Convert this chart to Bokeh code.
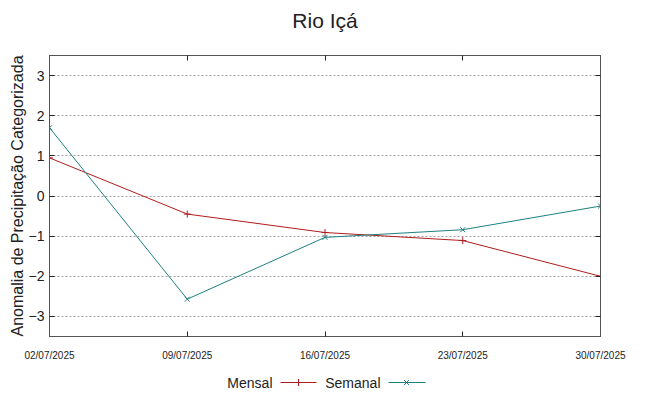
import datetime as dt
from bokeh.plotting import figure
from bokeh.layouts import column
from bokeh.models import LinearAxis, FixedTicker, Range1d, DatetimeTickFormatter
from bokeh.core.properties import value
from bokeh.embed import file_html
from bokeh.resources import INLINE

title_text = "Rio Içá"
dates = ["02/07/2025", "09/07/2025", "16/07/2025", "23/07/2025", "30/07/2025"]
mensal = [0.95, -0.45, -0.91, -1.11, -2.0]
semanal = [1.70, -2.57, -1.03, -0.84, -0.25]
yticks = [-3, -2, -1, 0, 1, 2, 3]

xs = [dt.datetime.strptime(d, "%d/%m/%Y") for d in dates]
xms = [(x - dt.datetime(1970, 1, 1)).total_seconds() * 1000 for x in xs]

RED = "#b01c1c"
TEAL = "#1e8080"
FONT = "Liberation Sans"
BL, BR = 49, 32

# title figure (x in page pixels, frame aligned with the main plot frame)
tf = figure(width=632, height=40, output_backend="svg", toolbar_location=None,
            x_range=Range1d(49, 600), y_range=Range1d(0, 40),
            min_border_left=BL, min_border_right=BR, min_border_top=0, min_border_bottom=0)
tf.axis.visible = False
tf.grid.visible = False
tf.outline_line_color = None
tf.text([324.5], [20], text=[title_text], text_align="center", text_baseline="middle",
        text_font=value(FONT), text_font_size="21px", text_color="#222222")

p = figure(width=632, height=324, output_backend="svg", toolbar_location=None,
           x_axis_type="datetime",
           x_range=Range1d(xms[0], xms[-1]), y_range=Range1d(-3.5, 3.5),
           min_border_left=BL, min_border_right=BR, min_border_top=15, min_border_bottom=28)

p.line(xms, mensal, color=RED, line_width=1.0)
p.scatter(xms, mensal, marker="cross", size=7, color=RED)
p.line(xms, semanal, color=TEAL, line_width=1.0)
p.scatter(xms, semanal, marker="x", size=7, color=TEAL)

p.xaxis.ticker = FixedTicker(ticks=xms)
p.xaxis.formatter = DatetimeTickFormatter(days="%d/%m/%Y", months="%d/%m/%Y", years="%d/%m/%Y")
p.yaxis.ticker = FixedTicker(ticks=yticks)
p.yaxis.axis_label = "Anomalia de Precipitação Categorizada"

for ax in [p.xaxis[0], p.yaxis[0]]:
    ax.major_tick_in = 5
    ax.major_tick_out = 0
    ax.minor_tick_line_color = None
    ax.axis_line_color = "#555555"
    ax.major_tick_line_color = "#222222"
    ax.major_label_text_font = FONT
    ax.major_label_text_color = "#222222"
    ax.axis_label_text_font = FONT
    ax.axis_label_text_font_style = "normal"
    ax.axis_label_text_font_size = "16px"
    ax.axis_label_text_color = "#222222"
p.xaxis.major_label_text_font_size = "10px"
p.xaxis.major_label_standoff = 13
p.yaxis.major_label_text_font_size = "14px"
p.yaxis.major_label_standoff = 5
p.yaxis.axis_label_standoff = 0

top = LinearAxis(ticker=FixedTicker(ticks=xms), major_label_text_color=None,
                 major_label_text_font_size="1px", major_label_standoff=0,
                 major_tick_in=5, major_tick_out=0, minor_tick_line_color=None,
                 axis_line_color="#555555", major_tick_line_color="#222222")
p.add_layout(top, "above")
right = LinearAxis(ticker=FixedTicker(ticks=yticks), major_label_text_color=None,
                   major_label_text_font_size="10px",
                   major_tick_in=5, major_tick_out=0, minor_tick_line_color=None,
                   major_label_standoff=0,
                   axis_line_color="#555555", major_tick_line_color="#222222")
p.add_layout(right, "right")

p.xgrid.grid_line_color = None
p.ygrid.ticker = FixedTicker(ticks=yticks)
p.ygrid.grid_line_color = "#a0a0a0"
p.ygrid.grid_line_dash = "2 2"
p.outline_line_color = "#555555"

# legend figure (x in page pixels, frame aligned with the main plot frame)
lg = figure(width=632, height=28, output_backend="svg", toolbar_location=None,
            x_range=Range1d(49, 600), y_range=Range1d(0, 28),
            min_border_left=BL, min_border_right=BR, min_border_top=0, min_border_bottom=0)
lg.axis.visible = False
lg.grid.visible = False
lg.outline_line_color = None
lg.text([272, 380], [10, 10], text=["Mensal", "Semanal"], text_align="right",
        text_baseline="middle", text_font=value(FONT), text_font_size="14px", text_color="#222222")
lg.line([280, 316], [10, 10], color=RED, line_width=1.0)
lg.scatter([298], [10], marker="cross", size=7, color=RED)
lg.line([388, 425], [10, 10], color=TEAL, line_width=1.0)
lg.scatter([406], [10], marker="x", size=7, color=TEAL)

layout = column(tf, p, lg, spacing=0)
open("out.html", "w").write(file_html(layout, INLINE))
